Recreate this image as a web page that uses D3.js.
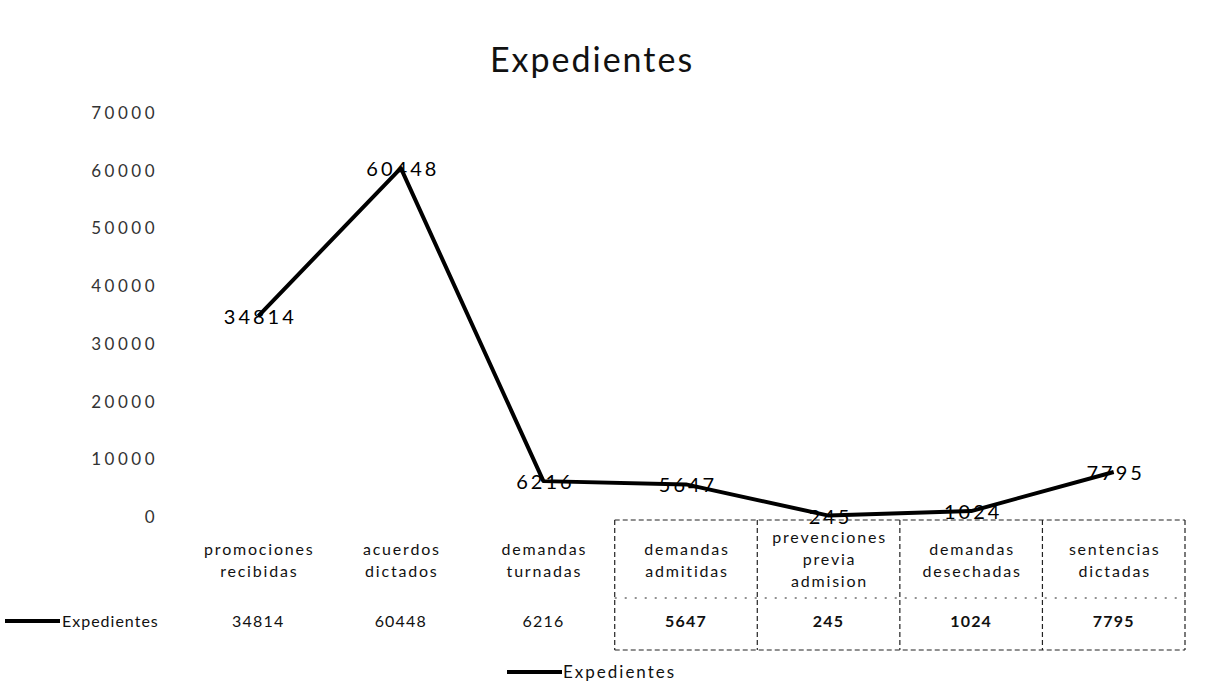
<!DOCTYPE html>
<html>
<head>
<meta charset="utf-8">
<script src="https://cdn.jsdelivr.net/npm/d3@7"></script>
<style>
  body { margin: 0; background: #fff; }
  svg { font-family: Lato, "Open Sans", sans-serif; }
</style>
</head>
<body>
<script>
// chart data
var categories = [
  ["promociones", "recibidas"],
  ["acuerdos", "dictados"],
  ["demandas", "turnadas"],
  ["demandas", "admitidas"],
  ["prevenciones", "previa", "admision"],
  ["demandas", "desechadas"],
  ["sentencias", "dictadas"]
];
var values = [34814, 60448, 6216, 5647, 245, 1024, 7795];
var seriesName = "Expedientes";
var yTicks = [0, 10000, 20000, 30000, 40000, 50000, 60000, 70000];

var w = 1228;
var h = 699;

var svg = d3.select("body")
      .append("svg")
      .attr("width", w)
      .attr("height", h);

// scales
var xScale = d3.scaleBand()
      .domain(d3.range(categories.length))
      .range([187, 1185]);

var yScale = d3.scaleLinear()
      .domain([0, 70000])
      .range([517, 113]);

// title
svg.append("text")
      .attr("x", 592)
      .attr("y", 72)
      .attr("text-anchor", "middle")
      .attr("font-size", 34)
      .attr("letter-spacing", 2)
      .attr("fill", "#111")
      .text(seriesName);

// y axis, labels only
var yAxis = d3.axisLeft(yScale)
      .tickValues(yTicks)
      .tickSize(0)
      .tickPadding(0)
      .tickFormat(d3.format("d"));

var gy = svg.append("g")
      .attr("transform", "translate(158,0)")
      .call(yAxis);
gy.select(".domain").remove();
gy.selectAll("text")
      .attr("font-size", 17)
      .attr("letter-spacing", 3.5)
      .attr("font-family", "Lato, sans-serif")
      .attr("fill", "#333");

// the line
var line = d3.line()
      .x(function(d, i) { return xScale(i) + xScale.bandwidth() / 2; })
      .y(function(d) { return yScale(d); });

svg.append("path")
      .datum(values)
      .attr("d", line)
      .attr("fill", "none")
      .attr("stroke", "#000")
      .attr("stroke-width", 4)
      .attr("stroke-linejoin", "round");

// data labels, centred on the points
svg.selectAll(".dlabel")
      .data(values)
      .enter()
      .append("text")
      .attr("class", "dlabel")
      .attr("x", function(d, i) { return xScale(i) + xScale.bandwidth() / 2 + 2; })
      .attr("y", function(d) { return yScale(d) + 8; })
      .attr("text-anchor", "middle")
      .attr("font-size", 20)
      .attr("letter-spacing", 3)
      .attr("fill", "#000")
      .text(function(d) { return d; });

// data table: category names
var cat = svg.selectAll(".cat")
      .data(categories)
      .enter()
      .append("text")
      .attr("class", "cat")
      .attr("text-anchor", "middle")
      .attr("font-size", 16)
      .attr("letter-spacing", 1.8)
      .attr("fill", "#111")
      .attr("x", function(d, i) { return xScale(i) + xScale.bandwidth() / 2 + 1; })
      .attr("y", function(d) { return d.length > 2 ? 543 : 555; });

cat.selectAll("tspan")
      .data(function(d) { return d; })
      .enter()
      .append("tspan")
      .attr("x", function() { return d3.select(this.parentNode).attr("x"); })
      .attr("dy", function(d, i) { return i === 0 ? 0 : 22; })
      .text(function(d) { return d; });

// data table: values
svg.selectAll(".tval")
      .data(values)
      .enter()
      .append("text")
      .attr("class", "tval")
      .attr("x", function(d, i) { return xScale(i) + xScale.bandwidth() / 2; })
      .attr("y", 627)
      .attr("text-anchor", "middle")
      .attr("font-size", 16)
      .attr("letter-spacing", 1.2)
      .attr("font-weight", function(d, i) { return i >= 3 ? "bold" : "normal"; })
      .attr("fill", "#111")
      .text(function(d) { return d; });

// table borders (only the right part survived in the scan)
var tb = svg.append("g")
      .attr("stroke", "#222")
      .attr("stroke-width", 1.2)
      .attr("stroke-dasharray", "5,3")
      .attr("fill", "none");

var x0 = xScale(3);
var x1 = xScale.range()[1];
tb.append("line").attr("x1", x0).attr("x2", x1).attr("y1", 520).attr("y2", 520);
tb.append("line").attr("x1", x0).attr("x2", x1).attr("y1", 598).attr("y2", 598)
      .attr("stroke-dasharray", "2,8");
tb.append("line").attr("x1", x0).attr("x2", x1).attr("y1", 650).attr("y2", 650);
d3.range(3, categories.length + 1).forEach(function(i) {
  var xx = i < categories.length ? xScale(i) : x1;
  tb.append("line").attr("x1", xx).attr("x2", xx).attr("y1", 520).attr("y2", 650);
});

// legend key inside table
svg.append("line")
      .attr("x1", 5).attr("x2", 60)
      .attr("y1", 621).attr("y2", 621)
      .attr("stroke", "#000")
      .attr("stroke-width", 4);
svg.append("text")
      .attr("x", 62)
      .attr("y", 627)
      .attr("font-size", 16)
      .attr("letter-spacing", 1)
      .attr("fill", "#111")
      .text(seriesName);

// bottom legend
svg.append("line")
      .attr("x1", 507).attr("x2", 562)
      .attr("y1", 672).attr("y2", 672)
      .attr("stroke", "#000")
      .attr("stroke-width", 4);
svg.append("text")
      .attr("x", 563)
      .attr("y", 678)
      .attr("font-size", 17)
      .attr("letter-spacing", 2)
      .attr("fill", "#111")
      .text(seriesName);
</script>
</body>
</html>
